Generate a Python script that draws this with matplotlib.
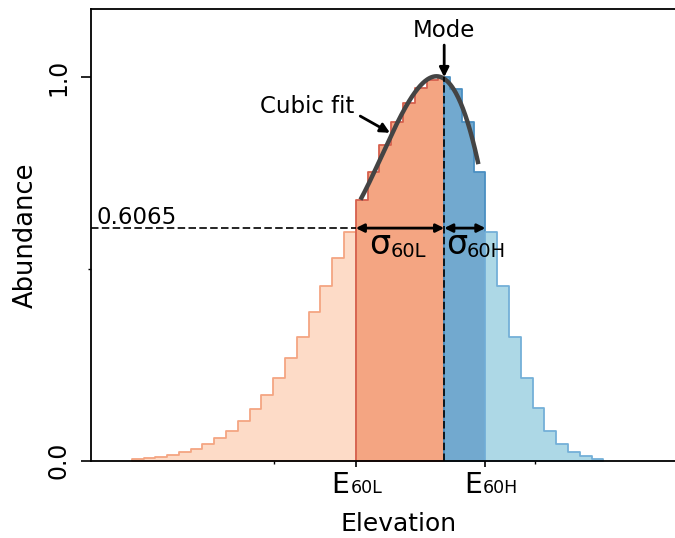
import numpy as np
import matplotlib.pyplot as plt

# abundance in each elevation class (class index = position along the gradient)
bins = np.arange(40)
abundance = np.array([0.005, 0.007, 0.010, 0.016, 0.023, 0.031, 0.044, 0.059, 0.078, 0.104,
                      0.134, 0.172, 0.216, 0.267, 0.323, 0.387, 0.456, 0.529, 0.597, 0.680,
                      0.754, 0.822, 0.882, 0.932, 0.971, 0.993, 1.000, 0.969, 0.882, 0.754,
                      0.597, 0.456, 0.323, 0.216, 0.137, 0.078, 0.043, 0.022, 0.011, 0.005])

e60l = 18.5
mode = 26
e60h = 29.5
level = 0.6065

fig = plt.figure(figsize=(6.75, 5.38), dpi=100)
ax = fig.add_axes([0.1344, 0.1437, 0.9116, 0.839])


def region(a, b, face, edge):
    # step outline of the histogram between a and b
    inner = np.arange(np.floor(a + 0.5) + 0.5, b, 1.0)
    xs = np.concatenate([[a], inner[inner > a], [b]])
    idx = np.floor(xs[:-1] + 0.5).astype(int)
    ys = np.append(abundance[idx], abundance[idx][-1])
    ax.fill_between(xs, ys, step='post', facecolor=face, edgecolor=edge, lw=1.3)


region(bins[0] - 0.5, e60l, '#fddbc7', '#f4a582')
region(e60l, mode, '#f4a582', '#d6604d')
region(mode, e60h, '#72a9cf', '#4a8fc2')
region(e60h, bins[-1] + 0.5, '#add8e6', '#74b0d8')

# cubic fit around the peak
sel = (bins >= 19) & (bins <= 29)
coef = np.polyfit(bins[sel], abundance[sel], 3)
xf = np.linspace(18.9, 28.9, 200)
ax.plot(xf, np.polyval(coef, xf), color='#444444', lw=3.2, solid_capstyle='butt')

# reference lines
ax.plot([-3.98, e60l], [level, level], 'k--', lw=1.2, dashes=(4.5, 2))
ax.plot([mode, mode], [0, 1.0], 'k--', lw=1.2, dashes=(4.5, 2))
ax.text(-3.48, 0.617, '0.6065', fontsize=16.5, ha='left', va='baseline')

arr = dict(arrowstyle='<|-|>', color='k', lw=2, mutation_scale=12, shrinkA=0, shrinkB=0)
ax.annotate('', xy=(e60l, level), xytext=(mode, level), arrowprops=arr)
ax.annotate('', xy=(mode, level), xytext=(e60h, level), arrowprops=arr)

ax.text(19.65, 0.538, 'σ', fontsize=24, ha='left', va='baseline')
ax.text(21.47, 0.532, '60L', fontsize=14, ha='left', va='baseline')
ax.text(26.16, 0.538, 'σ', fontsize=24, ha='left', va='baseline')
ax.text(27.91, 0.532, '60H', fontsize=14, ha='left', va='baseline')

ax.annotate('Mode', xy=(mode, 1.0), xytext=(mode, 1.104), fontsize=16.5,
            ha='center', va='baseline',
            arrowprops=dict(arrowstyle='-|>', color='k', lw=2, mutation_scale=14,
                            shrinkA=0, shrinkB=0))
ax.annotate('Cubic fit', xy=(21.4, 0.855), xytext=(14.34, 0.906), fontsize=16.5,
            ha='center', va='baseline',
            arrowprops=dict(arrowstyle='-|>', color='k', lw=2, mutation_scale=14,
                            shrinkA=3, shrinkB=0, relpos=(1.0, 0.25)))

# E60 tick labels
for xe, xs, sub in [(17.93, 18.08, '60L'), (29.24, 29.27, '60H')]:
    ax.text(xe, -0.085, 'E', fontsize=20.4, ha='right', va='baseline', clip_on=False)
    ax.text(xs, -0.085, sub, fontsize=12.5, ha='left', va='baseline', clip_on=False)

ax.set_xlim(-3.98, 48.21)
ax.set_ylim(0, 1.177)
ax.set_xticks([e60l, e60h])
ax.set_xticklabels(['', ''])
ax.set_xticks([11.53, 33.71], minor=True)
ax.set_yticks([0.0, 1.0])
ax.set_yticklabels(['0.0', '1.0'], rotation=90, va='center', fontsize=17)
ax.set_yticks([0.5], minor=True)
ax.tick_params(axis='y', which='major', length=7.5, width=1.2, pad=7)
ax.tick_params(axis='x', which='major', length=4.5, width=1.2)
ax.tick_params(which='minor', length=2, width=1)

for s in ax.spines.values():
    s.set_linewidth(1.3)
ax.spines['right'].set_visible(False)

ax.set_xlabel('Elevation', fontsize=18)
ax.set_ylabel('Abundance', fontsize=18.5)
ax.xaxis.set_label_coords(0.5, -0.113)
ax.yaxis.set_label_coords(-0.084, 0.5)

fig.savefig('out.png', dpi=100)
